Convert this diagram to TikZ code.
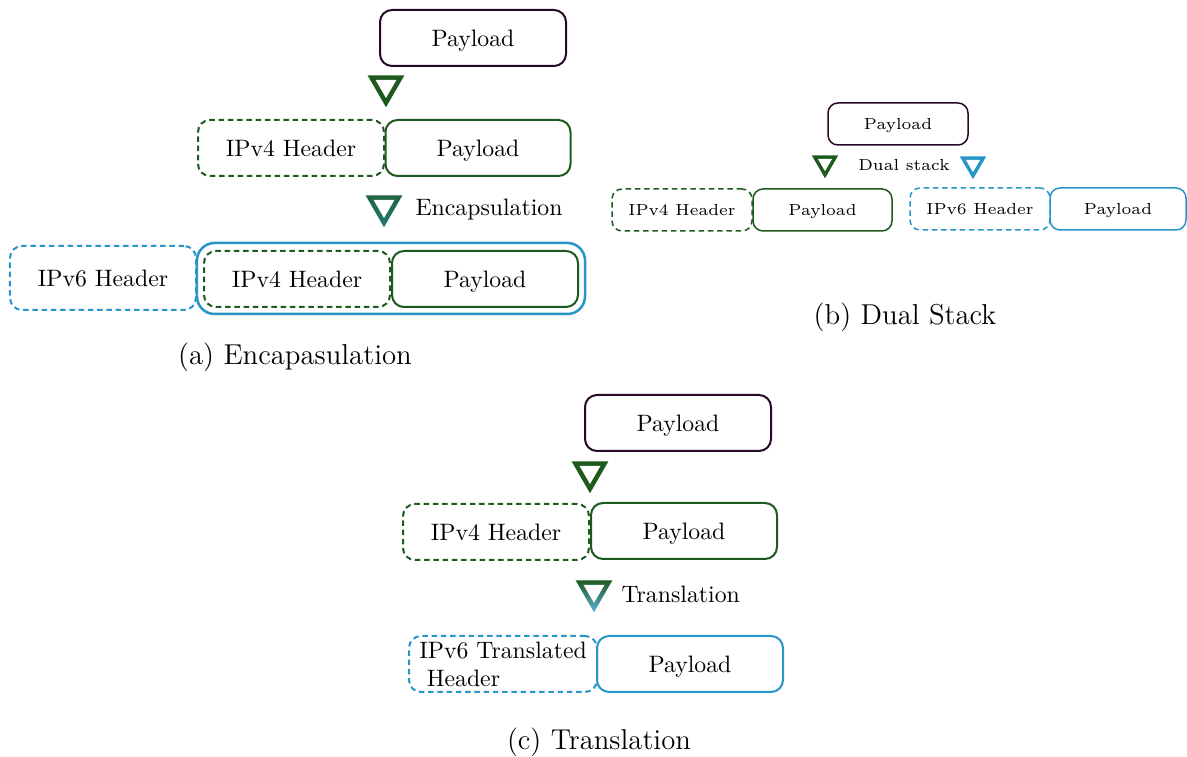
\documentclass[tikz,border=0pt]{standalone}
\usetikzlibrary{shapes.geometric}
\definecolor{dgreen}{RGB}{30,90,30}
\definecolor{lblue}{RGB}{38,150,200}
\definecolor{dpurple}{RGB}{40,10,40}
\begin{document}
\begin{tikzpicture}[x=0.4pt,y=-0.4pt,
  box/.style={draw, rounded corners=4.8pt, line width=0.8pt, minimum height=22.4pt,
    minimum width=74.4pt, inner sep=0pt, text height=6.6pt, text depth=0pt,
    font=\fontsize{9.5}{11.2}\selectfont},
  sbox/.style={box, minimum height=16.8pt, minimum width=56pt, rounded corners=4pt,
    line width=0.6pt, text height=4.5pt, font=\fontsize{6.4}{7.7}\selectfont},
  hdr/.style={dash pattern=on 2.2pt off 1.5pt},
  pay/.style={draw=dpurple},
  gpay/.style={draw=dgreen},
  bpay/.style={draw=lblue},
  ghdr/.style={hdr, draw=dgreen},
  bhdr/.style={hdr, draw=lblue},
  tri/.style={regular polygon, regular polygon sides=3, shape border rotate=180,
    inner sep=0pt, outer sep=0pt, minimum size=17pt, draw=none},
  hole/.style={tri, fill=white, minimum size=9.6pt},
  stri/.style={tri, minimum size=12.2pt},
  shole/.style={tri, fill=white, minimum size=6.5pt},
  captxt/.style={font=\fontsize{11.5}{13.8}\selectfont, inner sep=0pt},
  lbl/.style={font=\fontsize{9.5}{11.2}\selectfont, inner sep=0pt, anchor=west}]
\useasboundingbox (0,0) rectangle (1187,757);

% ---------- (a) Encapsulation ----------
\node[box, pay] (a0) at (473,38) {Payload};
\node[tri, fill=dgreen] (at1) at (386,86) {};
\node[hole] (at1h) at (at1.center) {};
\node[box, ghdr] (a1h) at (291,148) {IPv4 Header};
\node[box, gpay, minimum width=74pt] (a1p) at (478,148) {Payload};
\node[tri, top color=dgreen!80!lblue, bottom color=dgreen!50!lblue] (at2) at (384,206) {};
\node[hole] (at2h) at (at2.center) {};
\node[lbl] (al) at (415,210) {Encapsulation};
\node[box, bhdr, minimum height=25.6pt] (a2h6) at (103,278) {IPv6 Header};
\node[draw=lblue, line width=1pt, rounded corners=7pt, minimum width=155.2pt,
  minimum height=28.4pt, inner sep=0pt] (a2o) at (391,278.5) {};
\node[box, ghdr] (a2h4) at (297,279) {IPv4 Header};
\node[box, gpay] (a2p) at (485,279) {Payload};
\node[captxt] (acap) at (295,357) {(a) Encapasulation};

% ---------- (b) Dual Stack ----------
\node[sbox, pay] (b0) at (898,124) {Payload};
\node[stri, fill=dgreen] (bt1) at (825,163) {};
\node[shole] (bt1h) at (bt1.center) {};
\node[font=\fontsize{6.4}{7.7}\selectfont, inner sep=0pt] (bl) at (904,165) {Dual stack};
\node[stri, fill=lblue] (bt2) at (973,164) {};
\node[shole] (bt2h) at (bt2.center) {};
\node[sbox, ghdr] (b1h) at (682,210) {IPv4 Header};
\node[sbox, gpay, minimum width=55.6pt] (b1p) at (822.5,210) {Payload};
\node[sbox, bhdr] (b2h) at (980,209) {IPv6 Header};
\node[sbox, bpay, minimum width=54.4pt] (b2p) at (1118,209) {Payload};
\node[captxt] (bcap) at (905,317) {(b) Dual Stack};

% ---------- (c) Translation ----------
\node[box, pay] (c0) at (678,423) {Payload};
\node[tri, fill=dgreen] (ct1) at (590,472) {};
\node[hole] (ct1h) at (ct1.center) {};
\node[box, ghdr] (c1h) at (496,532) {IPv4 Header};
\node[box, gpay] (c1p) at (684,531) {Payload};
\node[tri, top color=dgreen, bottom color=lblue!75] (ct2) at (594,591) {};
\node[hole] (ct2h) at (ct2.center) {};
\node[lbl] (cl) at (621,594) {Translation};
\node[box, bhdr, minimum width=75.2pt, align=left, text height=, text depth=] (c2h) at (503,664)
  {IPv6 Translated\\\hspace{3pt}Header};
\node[box, bpay] (c2p) at (690,664) {Payload};
\node[captxt] (ccap) at (599,742) {(c) Translation};
\end{tikzpicture}
\end{document}
